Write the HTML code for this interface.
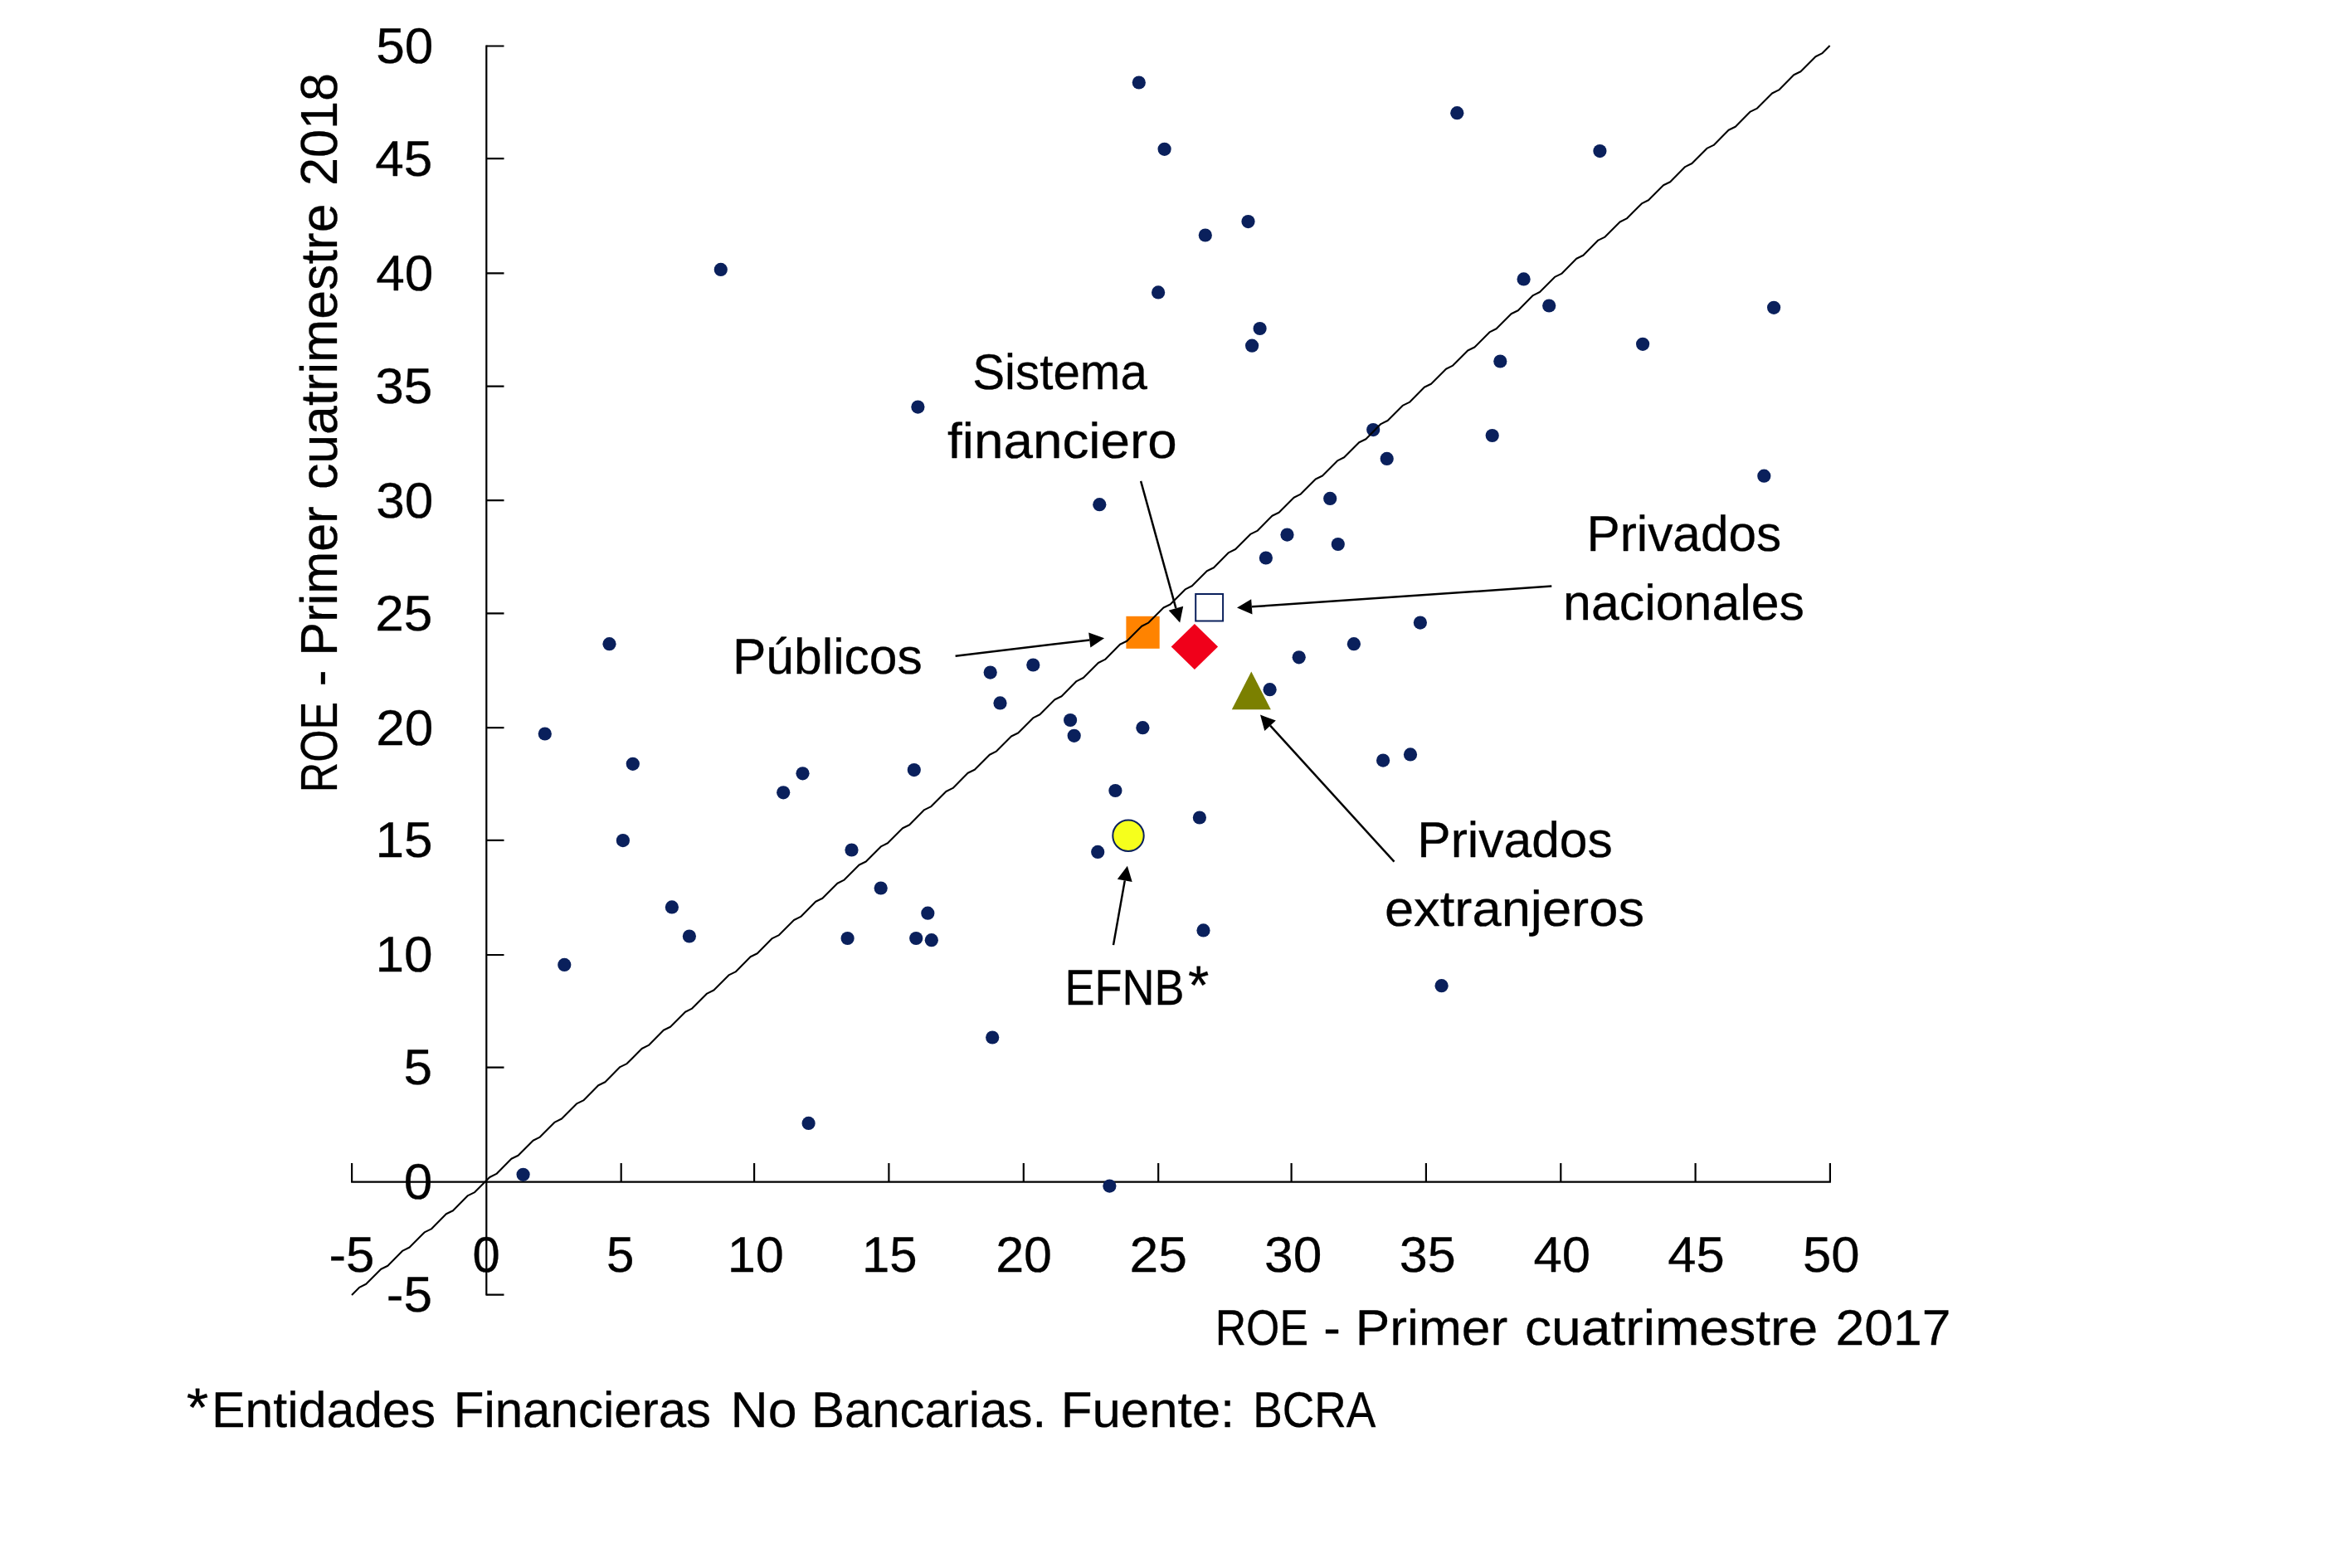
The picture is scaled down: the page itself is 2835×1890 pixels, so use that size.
<!DOCTYPE html>
<html><head><meta charset="utf-8"><title>ROE</title>
<style>html,body{margin:0;padding:0;background:#fff}svg{display:block}text{font-family:"Liberation Sans",sans-serif;font-size:60.3px;fill:#000;text-rendering:geometricPrecision;stroke:#000;stroke-width:0.3px;stroke-linejoin:round}</style></head>
<body>
<svg width="2835" height="1890" viewBox="0 0 2835 1890">
<rect width="2835" height="1890" fill="#fff"/>
<g stroke="#000" stroke-width="2.2" fill="none">
<path d="M423.1 1424.6H2206.9M586.3 54.5V1561.6"/>
<path d="M586.3 55.5h21.2M586.3 191.2h21.2M586.3 329.4h21.2M586.3 465.6h21.2M586.3 603.2h21.2M586.3 739.4h21.2M586.3 877.2h21.2M586.3 1012.9h21.2M586.3 1151.0h21.2M586.3 1286.7h21.2M586.3 1560.6h21.2M424.1 1424.6v-22.5M748.7 1424.6v-22.5M909.1 1424.6v-22.5M1071.4 1424.6v-22.5M1233.8 1424.6v-22.5M1396.2 1424.6v-22.5M1556.6 1424.6v-22.5M1718.9 1424.6v-22.5M1881.3 1424.6v-22.5M2043.6 1424.6v-22.5M2205.9 1424.6v-22.5"/>
</g>
<g fill="#0a205c">
<circle cx="868.8" cy="324.9" r="8.1"/>
<circle cx="1372.8" cy="99.5" r="8.1"/>
<circle cx="1403.6" cy="179.8" r="8.1"/>
<circle cx="1452.8" cy="283.5" r="8.1"/>
<circle cx="1396.1" cy="352.4" r="8.1"/>
<circle cx="1106.4" cy="490.6" r="8.1"/>
<circle cx="1756.3" cy="136.2" r="8.1"/>
<circle cx="1928.4" cy="182.1" r="8.1"/>
<circle cx="1504.5" cy="267.1" r="8.1"/>
<circle cx="1836.6" cy="336.4" r="8.1"/>
<circle cx="1867.2" cy="368.5" r="8.1"/>
<circle cx="2138.1" cy="370.8" r="8.1"/>
<circle cx="1518.6" cy="396.0" r="8.1"/>
<circle cx="1509.1" cy="416.7" r="8.1"/>
<circle cx="1980.1" cy="414.8" r="8.1"/>
<circle cx="1808.3" cy="435.5" r="8.1"/>
<circle cx="1655.2" cy="518.1" r="8.1"/>
<circle cx="1798.7" cy="525.0" r="8.1"/>
<circle cx="1671.7" cy="552.9" r="8.1"/>
<circle cx="2126.3" cy="573.7" r="8.1"/>
<circle cx="1603.2" cy="600.9" r="8.1"/>
<circle cx="1325.3" cy="608.2" r="8.1"/>
<circle cx="734.5" cy="776.2" r="8.1"/>
<circle cx="1193.7" cy="810.6" r="8.1"/>
<circle cx="1245.3" cy="801.5" r="8.1"/>
<circle cx="1205.5" cy="847.4" r="8.1"/>
<circle cx="1290.1" cy="868.0" r="8.1"/>
<circle cx="1294.7" cy="886.8" r="8.1"/>
<circle cx="1377.4" cy="877.2" r="8.1"/>
<circle cx="656.8" cy="884.5" r="8.1"/>
<circle cx="762.8" cy="920.8" r="8.1"/>
<circle cx="967.5" cy="932.3" r="8.1"/>
<circle cx="1101.8" cy="928.1" r="8.1"/>
<circle cx="944.2" cy="955.3" r="8.1"/>
<circle cx="1344.4" cy="953.0" r="8.1"/>
<circle cx="1445.9" cy="985.5" r="8.1"/>
<circle cx="750.9" cy="1013.1" r="8.1"/>
<circle cx="1026.5" cy="1024.5" r="8.1"/>
<circle cx="1323.2" cy="1026.9" r="8.1"/>
<circle cx="1061.7" cy="1070.5" r="8.1"/>
<circle cx="809.9" cy="1093.4" r="8.1"/>
<circle cx="1118.3" cy="1100.7" r="8.1"/>
<circle cx="830.9" cy="1128.5" r="8.1"/>
<circle cx="1021.6" cy="1131.0" r="8.1"/>
<circle cx="1104.2" cy="1131.0" r="8.1"/>
<circle cx="1122.8" cy="1133.2" r="8.1"/>
<circle cx="1450.5" cy="1121.4" r="8.1"/>
<circle cx="680.3" cy="1162.9" r="8.1"/>
<circle cx="1551.5" cy="644.6" r="8.1"/>
<circle cx="1612.8" cy="656.0" r="8.1"/>
<circle cx="1525.9" cy="672.5" r="8.1"/>
<circle cx="1711.9" cy="750.6" r="8.1"/>
<circle cx="1631.9" cy="776.2" r="8.1"/>
<circle cx="1565.7" cy="792.3" r="8.1"/>
<circle cx="1530.6" cy="831.2" r="8.1"/>
<circle cx="1700.0" cy="909.4" r="8.1"/>
<circle cx="1667.1" cy="916.6" r="8.1"/>
<circle cx="630.6" cy="1415.8" r="8.1"/>
<circle cx="974.6" cy="1353.9" r="8.1"/>
<circle cx="1196.2" cy="1250.5" r="8.1"/>
<circle cx="1737.6" cy="1188.2" r="8.1"/>
<circle cx="1337.4" cy="1429.6" r="8.1"/>
</g>
<rect x="1357.4" y="742.8" width="40.3" height="39" fill="#ff8300"/>
<path d="M1411.7 779.5L1439.9 752L1468.1 779.5L1439.9 807.1Z" fill="#f0001a"/>
<rect x="1441.2" y="716" width="32.9" height="32.5" fill="#fff" stroke="#0a205c" stroke-width="2"/>
<path d="M1508.3 809.4L1531.8 855.3H1484.8Z" fill="#7b8000"/>
<circle cx="1360" cy="1007.3" r="18.7" fill="#f6ff1c" stroke="#0a205c" stroke-width="2"/>
<path stroke="#000" stroke-width="2.1" fill="none" stroke-linejoin="round" d="M424.0 1560.9L433.0 1551.9L441.2 1547.8L459.2 1529.7L467.4 1525.7L485.4 1507.6L493.6 1503.5L511.6 1485.4L519.8 1481.4L537.8 1463.3L546.0 1459.2L564.0 1441.1L572.2 1437.1L590.2 1419.0L598.4 1414.9L616.4 1396.8L624.6 1392.8L642.6 1374.7L650.8 1370.6L668.8 1352.6L677.0 1348.5L695.0 1330.4L703.2 1326.4L721.2 1308.3L729.4 1304.2L747.4 1286.1L755.6 1282.1L773.6 1264.0L781.8 1259.9L799.8 1241.8L808.0 1237.8L826.0 1219.7L834.2 1215.6L852.2 1197.6L860.4 1193.5L878.4 1175.4L886.6 1171.4L904.6 1153.3L912.8 1149.2L930.8 1131.1L939.0 1127.1L957.0 1109.0L965.2 1104.9L983.2 1086.8L991.4 1082.8L1009.4 1064.7L1017.6 1060.6L1035.6 1042.5L1043.8 1038.5L1061.8 1020.4L1070.0 1016.3L1088.0 998.3L1096.2 994.2L1114.2 976.1L1122.4 972.1L1140.4 954.0L1148.6 949.9L1166.6 931.8L1174.8 927.8L1192.8 909.7L1201.0 905.6L1219.0 887.5L1227.2 883.5L1245.2 865.4L1253.4 861.3L1271.4 843.2L1279.6 839.2L1297.6 821.1L1305.8 817.0L1323.8 799.0L1332.0 794.9L1350.0 776.8L1358.2 772.8L1376.2 754.7L1384.4 750.6L1402.4 732.5L1410.6 728.5L1428.6 710.4L1436.8 706.3L1454.8 688.2L1463.0 684.2L1481.0 666.1L1489.2 662.0L1507.2 643.9L1515.4 639.9L1533.4 621.8L1541.6 617.7L1559.6 599.7L1567.8 595.6L1585.8 577.5L1594.0 573.5L1612.0 555.4L1620.2 551.3L1638.2 533.2L1646.4 529.2L1664.4 511.1L1672.6 507.0L1690.6 488.9L1698.8 484.9L1716.8 466.8L1725.0 462.7L1743.0 444.7L1751.2 440.6L1769.2 422.5L1777.4 418.5L1795.4 400.4L1803.6 396.3L1821.6 378.2L1829.8 374.2L1847.8 356.1L1856.0 352.0L1874.0 333.9L1882.2 329.9L1900.2 311.8L1908.4 307.7L1926.4 289.6L1934.6 285.6L1952.6 267.5L1960.8 263.4L1978.8 245.4L1987.0 241.3L2005.0 223.2L2013.2 219.2L2031.2 201.1L2039.4 197.0L2057.4 178.9L2065.6 174.9L2083.6 156.8L2091.8 152.7L2109.8 134.6L2118.0 130.6L2136.0 112.5L2144.2 108.4L2162.2 90.3L2170.4 86.3L2188.4 68.2L2196.6 64.1L2205.6 55.1"/>
<path d="M1375.1 579.9L1417.4 733.2" stroke="#000" stroke-width="2.5" fill="none"/><path d="M1422.2 750.5L1408.7 735.7L1426.2 730.8Z" fill="#000"/>
<path d="M1151.6 790.7L1313.3 771.4" stroke="#000" stroke-width="2.5" fill="none"/><path d="M1331.1 769.3L1314.4 780.5L1312.2 762.4Z" fill="#000"/>
<path d="M1870.3 706.6L1508.9 731.3" stroke="#000" stroke-width="2.5" fill="none"/><path d="M1491.0 732.5L1508.2 722.2L1509.5 740.4Z" fill="#000"/>
<path d="M1680.5 1038.7L1531.1 874.7" stroke="#000" stroke-width="2.5" fill="none"/><path d="M1519.0 861.5L1537.8 868.6L1524.3 880.9Z" fill="#000"/>
<path d="M1342.0 1139.1L1355.8 1061.4" stroke="#000" stroke-width="2.5" fill="none"/><path d="M1358.9 1043.8L1364.7 1063.0L1346.8 1059.8Z" fill="#000"/>
<text transform="translate(453.16 76.0) scale(1.0300 1)">50</text>
<text transform="translate(452.23 212.0) scale(1.0300 1)">45</text>
<text transform="translate(453.16 350.0) scale(1.0300 1)">40</text>
<text transform="translate(452.23 486.0) scale(1.0300 1)">35</text>
<text transform="translate(453.16 624.0) scale(1.0300 1)">30</text>
<text transform="translate(452.23 760.0) scale(1.0300 1)">25</text>
<text transform="translate(453.16 898.0) scale(1.0300 1)">20</text>
<text transform="translate(452.53 1033.0) scale(1.0300 1)">15</text>
<text transform="translate(452.56 1171.0) scale(1.0300 1)">10</text>
<text transform="translate(486.48 1307.0) scale(1.0300 1)">5</text>
<text transform="translate(486.70 1445.0) scale(1.0300 1)">0</text>
<text transform="translate(465.79 1581.0) scale(1.0300 1)">-5</text>
<text transform="translate(396.47 1533.0) scale(1.0246 1)">-5</text>
<text transform="translate(569.43 1533.0) scale(0.9917 1)">0</text>
<text transform="translate(730.92 1533.0) scale(0.9963 1)">5</text>
<text transform="translate(876.67 1533.0) scale(1.0162 1)">10</text>
<text transform="translate(1039.06 1533.0) scale(0.9925 1)">15</text>
<text transform="translate(1200.14 1533.0) scale(1.0121 1)">20</text>
<text transform="translate(1361.58 1533.0) scale(1.0340 1)">25</text>
<text transform="translate(1524.05 1533.0) scale(1.0332 1)">30</text>
<text transform="translate(1686.79 1533.0) scale(1.0121 1)">35</text>
<text transform="translate(1848.43 1533.0) scale(1.0243 1)">40</text>
<text transform="translate(2010.34 1533.0) scale(1.0206 1)">45</text>
<text transform="translate(2172.97 1533.0) scale(1.0222 1)">50</text>
<text transform="translate(1464.65 1621.0) scale(0.8596 1)">ROE</text>
<text transform="translate(1595.27 1621.0) scale(1.0239 1)">-</text>
<text transform="translate(1633.73 1621.0) scale(1.0334 1)">Primer</text>
<text transform="translate(1837.99 1621.0) scale(1.0647 1)">cuatrimestre</text>
<text transform="translate(2212.58 1621.0) scale(1.0343 1)">2017</text>
<text transform="translate(224.63 1719.4) scale(1.1306 1.09)">*</text>
<text transform="translate(255.05 1720.0) scale(1.0072 1)">Entidades</text>
<text transform="translate(546.71 1720.0) scale(0.9958 1)">Financieras</text>
<text transform="translate(880.61 1720.0) scale(1.0382 1)">No</text>
<text transform="translate(977.92 1720.0) scale(0.9940 1)">Bancarias.</text>
<text transform="translate(1278.67 1720.0) scale(1.0251 1)">Fuente:</text>
<text transform="translate(1510.34 1720.0) scale(0.8834 1)">BCRA</text>
<text transform="translate(1172.18 469.0) scale(0.9671 1)">Sistema</text>
<text transform="translate(1142.10 552.0) scale(1.0579 1)">financiero</text>
<text transform="translate(882.97 812.0) scale(1.0040 1)">Públicos</text>
<text transform="translate(1912.49 664.0) scale(1.0004 1)">Privados</text>
<text transform="translate(1884.10 747.0) scale(1.0090 1)">nacionales</text>
<text transform="translate(1708.27 1033.0) scale(1.0035 1)">Privados</text>
<text transform="translate(1668.92 1116.0) scale(1.0498 1)">extranjeros</text>
<text transform="translate(1283.48 1211.0) scale(0.8966 1)">EFNB</text>
<text transform="translate(1431.98 1210.4) scale(1.0798 1.09)">*</text>
<text transform="translate(406.0 955.14) rotate(-90) scale(0.8369 1.035)">ROE</text>
<text transform="translate(406.0 827.35) rotate(-90) scale(0.9802 1.035)">-</text>
<text transform="translate(406.0 790.68) rotate(-90) scale(1.0154 1.035)">Primer</text>
<text transform="translate(406.0 590.06) rotate(-90) scale(1.0388 1.035)">cuatrimestre</text>
<text transform="translate(406.0 224.07) rotate(-90) scale(1.0142 1.035)">2018</text>
</svg>
</body></html>
